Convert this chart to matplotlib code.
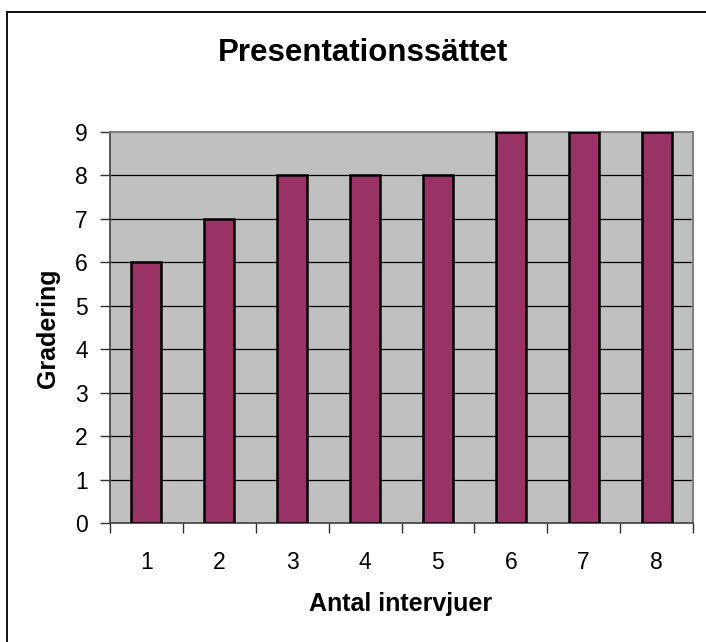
import numpy as np
import matplotlib
matplotlib.use("Agg")
import matplotlib.pyplot as plt
from matplotlib.lines import Line2D

plt.rcParams["font.family"] = ["Liberation Sans", "DejaVu Sans"]

# data
intervjuer = [1, 2, 3, 4, 5, 6, 7, 8]
gradering = [6, 7, 8, 8, 8, 9, 9, 9]
y_ticks = list(range(0, 10))

W, H = 706, 642
fig = plt.figure(figsize=(W / 100, H / 100), dpi=100)

# plot area in pixel coordinates
left, right, top, bottom = 110, 693, 132, 523
ax = fig.add_axes([left / W, 1 - bottom / H, (right - left) / W, (bottom - top) / H])
ax.set_facecolor("#c0c0c0")

x = np.arange(len(intervjuer))
ax.bar(x, gradering, width=0.41, color="#993366", edgecolor="black", linewidth=1.8, zorder=3)

ax.set_xlim(-0.5, len(intervjuer) - 0.5)
ax.set_ylim(0, 9)

# horizontal gridlines
for yv in y_ticks[1:-1]:
    ax.axhline(yv, color="black", linewidth=0.9, zorder=1)

ax.set_yticks(y_ticks)
ax.set_yticklabels([str(v) for v in y_ticks], fontsize=16.5)
ax.set_xticks(x)
ax.set_xticklabels([str(v) for v in intervjuer], fontsize=16.5)
ax.tick_params(axis="x", length=0, pad=20)
ax.tick_params(axis="y", length=7, width=1, direction="out", pad=9, color="#303030")
ax.set_xticks(np.arange(len(intervjuer) + 1) - 0.5, minor=True)
ax.tick_params(axis="x", which="minor", length=7, width=1, direction="out", color="#303030")

for side in ["top", "right"]:
    ax.spines[side].set_color("#808080")
    ax.spines[side].set_linewidth(1.5)
for side in ["left", "bottom"]:
    ax.spines[side].set_color("#404040")
    ax.spines[side].set_linewidth(1.2)

fig.text(363 / W, 1 - 61 / H, "Presentationssättet", fontsize=22.5, fontweight="bold",
         ha="center", va="baseline")
fig.text(401 / W, 1 - 611 / H, "Antal intervjuer", fontsize=18, fontweight="bold",
         ha="center", va="baseline")
fig.text(55 / W, 1 - 328.5 / H, "Gradering", fontsize=18, fontweight="bold",
         ha="center", va="baseline", rotation=90, rotation_mode="anchor")

# chart border (extends past the right and bottom edge)
fig.add_artist(Line2D([7 / W, 1.0], [1 - 11.5 / H, 1 - 11.5 / H], color="black", linewidth=1.3))
fig.add_artist(Line2D([7 / W, 7 / W], [0.0, 1 - 11.5 / H], color="black", linewidth=1.3))

fig.savefig("out.png", dpi=100)
